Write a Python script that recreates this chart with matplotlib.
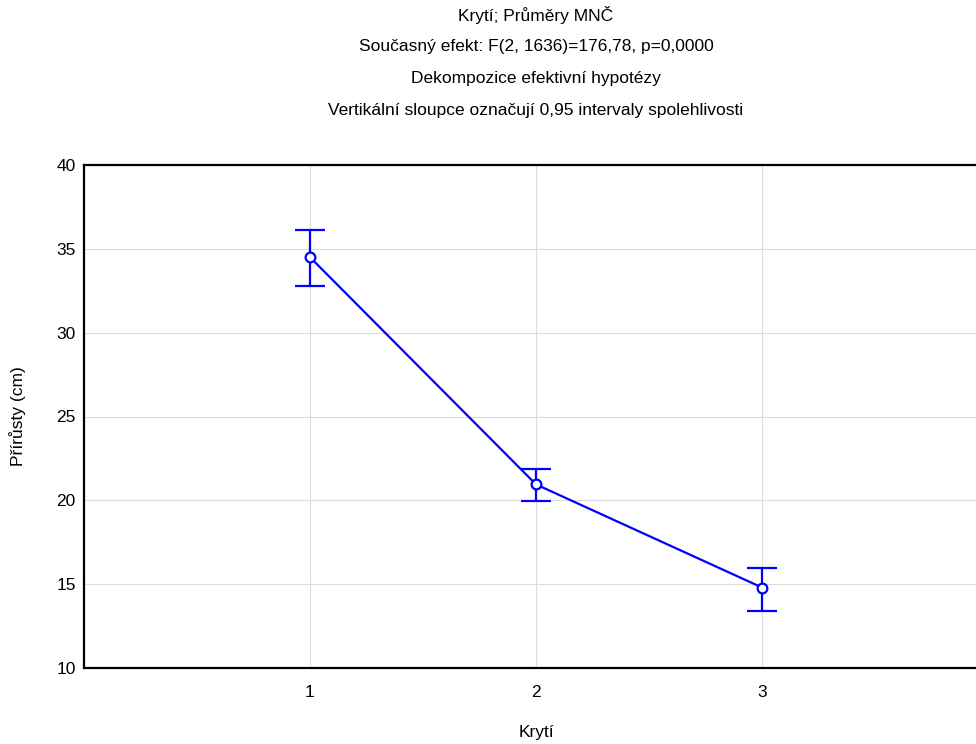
import matplotlib
matplotlib.use("Agg")
import matplotlib.pyplot as plt

categories = [1, 2, 3]
means = [34.5, 20.95, 14.8]
upper = [36.1, 21.85, 15.95]
lower = [32.8, 19.95, 13.4]
xticks = [1, 2, 3]
yticks = [10, 15, 20, 25, 30, 35, 40]
titles = ["Krytí; Průměry MNČ",
          "Současný efekt: F(2, 1636)=176,78, p=0,0000",
          "Dekompozice efektivní hypotézy",
          "Vertikální sloupce označují 0,95 intervaly spolehlivosti"]

plt.rcParams['font.family'] = ['Liberation Sans', 'DejaVu Sans']

fig = plt.figure(figsize=(9.76, 7.44), dpi=100)
ax = fig.add_axes([84/976, 76/744, 904/976, 503/744])

err = [[m - l for m, l in zip(means, lower)], [u - m for m, u in zip(means, upper)]]
ax.errorbar(categories, means, yerr=err, color='#0000ff', lw=1.6, capsize=11,
            capthick=1.6, elinewidth=1.6, marker='o', ms=7, mfc='white',
            mec='#0000ff', mew=1.6, zorder=3)

ax.set_xlim(0, 4)
ax.set_ylim(10, 40)
ax.set_xticks(xticks)
ax.set_yticks(yticks)
ax.grid(True, color='#dcdcdc', lw=0.8)
ax.set_axisbelow(True)
ax.tick_params(length=0, labelsize=12.5, pad=6)
ax.tick_params(axis='x', pad=12)
for s in ax.spines.values():
    s.set_linewidth(1.6)
    s.set_color('black')

ax.set_xlabel("Krytí", fontsize=12.5, labelpad=18)
ax.set_ylabel("Přírůsty (cm)", fontsize=12.5, labelpad=22)

xc = (84 + 988) / 2 / 976
for i, t in enumerate(titles):
    fig.text(xc, 1 - (15 + 32 * i) / 744, t, ha='center', va='center', fontsize=12.5)

fig.savefig("out.png", dpi=100)
